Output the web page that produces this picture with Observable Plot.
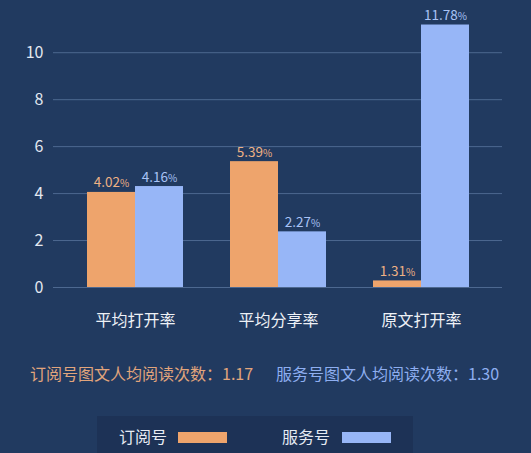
<!DOCTYPE html>
<html>
<head>
<meta charset="utf-8">
<script src="https://cdn.jsdelivr.net/npm/d3@7"></script>
<script src="https://cdn.jsdelivr.net/npm/@observablehq/plot@0.6"></script>
<style>
  html, body { margin: 0; padding: 0; }
  body { width: 531px; height: 453px; overflow: hidden; background: #213a60; font-family: "Noto Sans CJK SC", "Noto Sans", sans-serif; }
  #chart { height: 337px; }
  #notes { position: relative; height: 22px; margin-top: 25px; font-size: 16px; line-height: 22px; }
  #notes span { position: absolute; top: 0; white-space: nowrap; }
  #legend { position: absolute; left: 97px; top: 416px; width: 316px; height: 40px; background: #1d3256; }
  #legend .item { position: absolute; top: 0; height: 40px; line-height: 40px; font-size: 16px; color: #e6ebf3; }
  #legend .sw { position: absolute; top: 16px; width: 49px; height: 11px; }
</style>
</head>
<body>
<div id="chart"></div>
<div id="notes"></div>
<div id="legend"></div>
<script>
// ---- data ----
const categories = ["平均打开率", "平均分享率", "原文打开率"];
const seriesNames = ["订阅号", "服务号"];
// bar heights as drawn in the picture
const subscriptionValues = [4.05, 5.36, 0.28];
const serviceValues = [4.30, 2.37, 11.18];
// value labels as printed
const subscriptionLabels = ["4.02", "5.39", "1.31"];
const serviceLabels = ["4.16", "2.27", "11.78"];
const yTicks = [0, 2, 4, 6, 8, 10];
const noteSubscription = "订阅号图文人均阅读次数：1.17";
const noteService = "服务号图文人均阅读次数：1.30";

const orange = "#eea46c";
const blue = "#97b6f7";
const orangeText = "#eeb184";
const blueText = "#a9c3f6";

const subData = categories.map((c, i) => ({cat: c, v: subscriptionValues[i], label: subscriptionLabels[i] + "%"}));
const svcData = categories.map((c, i) => ({cat: c, v: serviceValues[i], label: serviceLabels[i] + "%"}));

const chart = Plot.plot({
  width: 531,
  height: 337,
  marginLeft: 53,
  marginRight: 29,
  marginTop: 17,
  marginBottom: 50,
  style: {background: "transparent", color: "#e3e8f0", fontFamily: "'Noto Sans CJK SC', 'Noto Sans', sans-serif", fontSize: "16px"},
  x: {domain: categories, paddingInner: 0.331, paddingOuter: 0.228, label: null},
  y: {domain: [0, 11.5], label: null},
  marks: [
    Plot.ruleY(yTicks, {stroke: "#4d6890", strokeWidth: 1}),
    Plot.barY(subData, {x: "cat", y: "v", fill: orange, insetRight: 48}),
    Plot.barY(svcData, {x: "cat", y: "v", fill: blue, insetLeft: 48}),
    Plot.text(subData, {x: "cat", y: "v", text: "label", dx: -24, dy: -5, lineAnchor: "bottom", fill: orangeText, fontSize: 13.5}),
    Plot.text(svcData, {x: "cat", y: "v", text: "label", dx: 24, dy: -5, lineAnchor: "bottom", fill: blueText, fontSize: 13.5}),
    Plot.axisY(yTicks, {tickSize: 0, tickPadding: 10, fontSize: 16, fill: "#e3e8f0", label: null}),
    Plot.axisX({tickSize: 0, tickPadding: 27, fontSize: 16, fill: "#eef1f6", label: null})
  ]
});
document.getElementById("chart").appendChild(chart);

// make "%" smaller in value labels
d3.select(chart).selectAll("text").filter(function () {
  return /^[0-9.]+%$/.test(this.textContent);
}).each(function () {
  const t = this.textContent;
  const num = t.slice(0, -1);
  this.textContent = "";
  const s = d3.select(this);
  s.append("tspan").text(num);
  s.append("tspan").attr("font-size", 10).text("%");
});

// notes line
const notes = d3.select("#notes");
notes.append("span").style("left", "30px").style("color", "#e2a57c").text(noteSubscription);
notes.append("span").style("left", "276px").style("color", "#8eaef0").text(noteService);

// legend
const legend = d3.select("#legend");
const legendColors = [orange, blue];
const textLefts = [22, 185];
const swLefts = [81, 245];
seriesNames.forEach((n, i) => {
  legend.append("div").attr("class", "item").style("left", textLefts[i] + "px").text(n);
  legend.append("div").attr("class", "sw").style("left", swLefts[i] + "px").style("background", legendColors[i]);
});
</script>
</body>
</html>
